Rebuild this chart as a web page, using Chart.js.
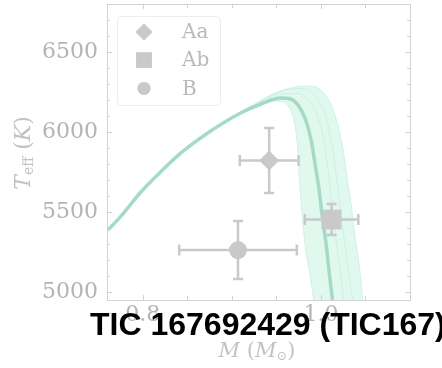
<!DOCTYPE html>
<html><head><meta charset="utf-8">
<script src="https://cdn.jsdelivr.net/npm/chart.js@4"></script>
<style>html,body{margin:0;padding:0;background:#fff;}canvas{display:block}</style>
</head><body>
<canvas id="c" width="442" height="368"></canvas>
<script>
// ---- data ----
const starNames   = ['Aa', 'Ab', 'B'];
const starMass    = [0.942, 1.012, 0.907];
const starMassErr = [0.033, 0.030, 0.066];
const starTeff    = [5822, 5453, 5262];
const starTeffErr = [203, 97, 181];

// best isochrone (thick line)
const isoMass = [0.761, 0.775, 0.798, 0.820, 0.843, 0.873, 0.910, 0.933, 0.955, 0.966, 0.975, 0.983, 0.989, 0.994, 0.998, 1.002, 1.006, 1.009, 1.013];
const isoTeff = [5388, 5469, 5625, 5750, 5869, 5994, 6119, 6175, 6212, 6206, 6162, 6075, 5950, 5781, 5638, 5450, 5294, 5138, 4950];

// band of sampled isochrones: inner edge, two intermediate, outer edge
const bandInnerMass = [0.910, 0.921, 0.944, 0.958, 0.966, 0.971, 0.974, 0.976, 0.979, 0.983, 0.988, 0.992];
const bandInnerTeff = [6119, 6150, 6194, 6187, 6137, 6044, 5888, 5700, 5481, 5262, 5106, 4950];
const bandMid1Mass = [0.910, 0.930, 0.955, 0.975, 0.990, 1.000, 1.006, 1.011, 1.015, 1.020, 1.026];
const bandMid1Teff = [6119, 6180, 6238, 6240, 6165, 6030, 5850, 5620, 5420, 5200, 4950];
const bandMid2Mass = [0.910, 0.930, 0.960, 0.980, 0.995, 1.006, 1.013, 1.018, 1.022, 1.027, 1.031, 1.036];
const bandMid2Teff = [6119, 6192, 6262, 6272, 6215, 6090, 5900, 5700, 5500, 5300, 5120, 4950];
const bandOuterMass = [0.910, 0.921, 0.944, 0.966, 0.987, 1.000, 1.011, 1.019, 1.025, 1.029, 1.034, 1.038, 1.043, 1.047];
const bandOuterTeff = [6119, 6152, 6231, 6275, 6287, 6262, 6175, 6044, 5888, 5731, 5544, 5356, 5169, 4950];

const xTickValues = [0.8, 1.0];
const xTickLabels = ['0.8', '1.0'];
const xMinorValues = [0.85, 0.9, 0.95, 1.05];
const yTickValues = [5000, 5500, 6000, 6500];
const yTickLabels = ['5000', '5500', '6000', '6500'];
const yMinorValues = [5100, 5200, 5300, 5400, 5600, 5700, 5800, 5900, 6100, 6200, 6300, 6400, 6600, 6700];

const titleText = 'TIC 167692429 (TIC167)';

// ---- styles ----
const GREY = '#c9c9c9';
const MINT = '#a3dbc6';
const MINT_LIGHT = '#c6efdf';
const SERIF = '"DejaVu Serif", "Liberation Serif", serif';

const pts = (xs, ys) => xs.map((x, i) => ({x: x, y: ys[i]}));
const shapes = ['rectRot', 'rect', 'circle'];
const radii = [10, 14, 9];
const legendRadii = [8.5, 11, 6.5];

const starSets = starNames.map((n, i) => ({
  label: n,
  data: [{x: starMass[i], y: starTeff[i]}],
  pointStyle: shapes[i],
  pointRadius: radii[i],
  pointHoverRadius: radii[i],
  backgroundColor: GREY,
  borderColor: GREY,
  borderWidth: 0
}));

const lineSet = (label, data, color, width) => ({
  type: 'line', label: label, data: data, showLine: true,
  borderColor: color, borderWidth: width, pointRadius: 0, pointHoverRadius: 0,
  cubicInterpolationMode: 'monotone', fill: false
});

const datasets = starSets.concat([
  lineSet('iso', pts(isoMass, isoTeff), MINT, 3.5),
  lineSet('mid1', pts(bandMid1Mass, bandMid1Teff), MINT_LIGHT, 0.8),
  lineSet('mid2', pts(bandMid2Mass, bandMid2Teff), MINT_LIGHT, 0.8),
  lineSet('inner', pts(bandInnerMass, bandInnerTeff), MINT_LIGHT, 0.8),
  lineSet('outer', pts(bandOuterMass, bandOuterTeff), MINT_LIGHT, 0.8)
]);

function drawParts(ctx, parts, cx, cy) {
  let w = 0;
  parts.forEach(p => { ctx.font = p.font; p.w = ctx.measureText(p.t).width; w += p.w; });
  let x = cx - w / 2;
  ctx.textBaseline = 'middle';
  ctx.textAlign = 'left';
  parts.forEach(p => { ctx.font = p.font; ctx.fillText(p.t, x, cy + (p.dy || 0)); x += p.w; });
}

const decor = {
  id: 'decor',
  beforeDatasetsDraw(chart) {
    const ctx = chart.ctx, a = chart.chartArea;
    const outer = chart.getDatasetMeta(7).dataset;
    const inner = chart.getDatasetMeta(6).dataset;
    ctx.save();
    ctx.beginPath(); ctx.rect(a.left, a.top, a.right - a.left, a.bottom - a.top); ctx.clip();
    ctx.beginPath();
    outer.pathSegment(ctx, outer.segments[0], {move: true});
    inner.pathSegment(ctx, inner.segments[0], {move: false, reverse: true});
    ctx.closePath();
    ctx.fillStyle = 'rgba(200,243,226,0.55)';
    ctx.fill();
    ctx.restore();
  },
  beforeDatasetDraw(chart, args) {
    if (args.index !== 2) return;
    const ctx = chart.ctx, xs = chart.scales.x, ys = chart.scales.y;
    ctx.save();
    ctx.strokeStyle = GREY; ctx.lineWidth = 2.5; ctx.lineCap = 'butt';
    starNames.forEach((n, i) => {
      const x0 = xs.getPixelForValue(starMass[i] - starMassErr[i]);
      const x1 = xs.getPixelForValue(starMass[i] + starMassErr[i]);
      const xc = xs.getPixelForValue(starMass[i]);
      const yc = ys.getPixelForValue(starTeff[i]);
      const y0 = ys.getPixelForValue(starTeff[i] + starTeffErr[i]);
      const y1 = ys.getPixelForValue(starTeff[i] - starTeffErr[i]);
      ctx.beginPath();
      ctx.moveTo(x0, yc); ctx.lineTo(x1, yc);
      ctx.moveTo(x0, yc - 5.5); ctx.lineTo(x0, yc + 5.5);
      ctx.moveTo(x1, yc - 5.5); ctx.lineTo(x1, yc + 5.5);
      ctx.moveTo(xc, y0); ctx.lineTo(xc, y1);
      ctx.moveTo(xc - 5, y0); ctx.lineTo(xc + 5, y0);
      ctx.moveTo(xc - 5, y1); ctx.lineTo(xc + 5, y1);
      ctx.stroke();
    });
    ctx.restore();
  },
  afterDraw(chart) {
    const ctx = chart.ctx, a = chart.chartArea, xs = chart.scales.x, ys = chart.scales.y;
    ctx.save();
    ctx.strokeStyle = '#d2d2d2'; ctx.lineWidth = 1;
    ctx.strokeRect(Math.round(a.left) + 0.5, Math.round(a.top) + 0.5, Math.round(a.right - a.left), Math.round(a.bottom - a.top));
    ctx.beginPath();
    const yt = (v, len) => {
      const y = Math.round(ys.getPixelForValue(v)) + 0.5;
      ctx.moveTo(a.left, y); ctx.lineTo(a.left + len, y);
      ctx.moveTo(a.right, y); ctx.lineTo(a.right - len, y);
    };
    const xt = (v, len) => {
      const x = Math.round(xs.getPixelForValue(v)) + 0.5;
      ctx.moveTo(x, a.bottom); ctx.lineTo(x, a.bottom - len);
      ctx.moveTo(x, a.top); ctx.lineTo(x, a.top + len);
    };
    yTickValues.forEach(v => yt(v, 5));
    yMinorValues.forEach(v => yt(v, 3));
    xTickValues.forEach(v => xt(v, 5));
    xMinorValues.forEach(v => xt(v, 4));
    ctx.stroke();

    // legend
    const lx = 117, ly = 16, lw = 103, lh = 89;
    ctx.beginPath();
    if (ctx.roundRect) ctx.roundRect(lx + 0.5, ly + 0.5, lw, lh, 4); else ctx.rect(lx + 0.5, ly + 0.5, lw, lh);
    ctx.fillStyle = 'rgba(255,255,255,0.9)'; ctx.fill();
    ctx.strokeStyle = '#ececec'; ctx.stroke();
    starNames.forEach((n, i) => {
      const cy = 32 + i * 28.2;
      ctx.fillStyle = GREY;
      Chart.helpers.drawPoint(ctx, {pointStyle: shapes[i], radius: legendRadii[i], rotation: 0, borderWidth: 0}, 144, cy);
      ctx.fill();
      ctx.fillStyle = '#b9b9b9';
      ctx.font = '20px ' + SERIF; ctx.textAlign = 'left'; ctx.textBaseline = 'middle';
      ctx.fillText(n, 182, cy + 1);
    });

    ctx.fillStyle = '#c2c2c2';
    drawParts(ctx, [
      {t: 'M', font: 'italic 21px ' + SERIF},
      {t: ' (', font: '21px ' + SERIF},
      {t: 'M', font: 'italic 21px ' + SERIF},
      {t: '\u2299', font: '13px ' + SERIF, dy: 5},
      {t: ')', font: '21px ' + SERIF}
    ], 257, 352);
    ctx.save();
    ctx.translate(24, 153);
    ctx.rotate(-Math.PI / 2);
    drawParts(ctx, [
      {t: 'T', font: 'italic 22px ' + SERIF},
      {t: 'eff', font: '14px ' + SERIF, dy: 5},
      {t: ' (', font: '22px ' + SERIF},
      {t: 'K', font: 'italic 22px ' + SERIF},
      {t: ')', font: '22px ' + SERIF}
    ], 0, 0);
    ctx.restore();

    ctx.fillStyle = '#000';
    ctx.font = 'bold 32px "Liberation Sans", Arial, sans-serif';
    ctx.textAlign = 'left'; ctx.textBaseline = 'alphabetic';
    ctx.fillText(titleText, 90, 335);
    ctx.restore();
  }
};

new Chart(document.getElementById('c'), {
  type: 'scatter',
  data: {datasets: datasets},
  options: {
    responsive: false, animation: false, devicePixelRatio: 1,
    layout: {autoPadding: false, padding: {left: 0, right: 32, top: 4, bottom: 0}},
    plugins: {legend: {display: false}, tooltip: {enabled: false}, title: {display: false}},
    scales: {
      x: {
        type: 'linear', min: 0.76, max: 1.1,
        afterFit(s) { s.height = 68; s.paddingLeft = 0; s.paddingRight = 0; s.paddingTop = 0; s.paddingBottom = 0; },
        afterBuildTicks(s) { s.ticks = xTickValues.map(v => ({value: v})); },
        ticks: {
          callback: (v) => { const i = xTickValues.findIndex(t => Math.abs(t - v) < 1e-6); return i >= 0 ? xTickLabels[i] : ''; },
          font: {family: SERIF, size: 22}, color: '#b4b4b4', padding: 2, maxRotation: 0, autoSkip: false
        },
        grid: {display: false, drawTicks: false},
        border: {display: false}
      },
      y: {
        type: 'linear', min: 4950, max: 6800,
        afterFit(s) { s.width = 107; s.paddingLeft = 0; s.paddingRight = 0; s.paddingTop = 0; s.paddingBottom = 0; },
        afterBuildTicks(s) { s.ticks = yTickValues.map(v => ({value: v})); },
        ticks: {
          callback: (v) => { const i = yTickValues.indexOf(v); return i >= 0 ? yTickLabels[i] : ''; },
          font: {family: SERIF, size: 22}, color: '#b4b4b4', padding: 9, autoSkip: false
        },
        grid: {display: false, drawTicks: false},
        border: {display: false}
      }
    }
  },
  plugins: [decor]
});
</script>
</body></html>
